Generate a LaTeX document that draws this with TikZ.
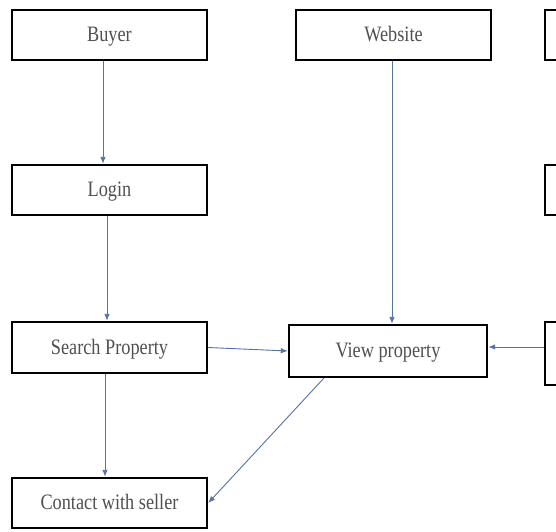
\documentclass[tikz,border=0pt]{standalone}
\usepackage{fontspec}
\usepackage{graphicx}
\setmainfont{Liberation Serif}
\usetikzlibrary{arrows.meta}
\definecolor{linkblue}{RGB}{84,116,164}
\definecolor{txtgray}{RGB}{80,80,80}
\newcommand{\lbltext}[1]{\scalebox{0.83}[1]{#1}}
\tikzset{
  boxnode/.style={draw=black, line width=2.4pt, minimum width=195pt, minimum height=50pt,
    inner sep=0pt, text height=17pt, text depth=4pt,
    font=\fontsize{22}{26}\selectfont, text=txtgray},
  arr/.style={draw=linkblue, line width=0.9pt, -{Latex[length=7pt,width=5.5pt]}}
}
\begin{document}
\begin{tikzpicture}[x=1pt,y=1pt]
\useasboundingbox (0,0) rectangle (556,-531);
\clip (0,0) rectangle (556,-531);
\fill[white] (0,0) rectangle (556,-531);
\node[boxnode] (buyer) at (109.5,-35) {\lbltext{Buyer}};
\node[boxnode] (website) at (393.5,-35) {\lbltext{Website}};
\node[boxnode] (r1) at (642.5,-35) {};
\node[boxnode] (login) at (109.5,-190) {\lbltext{Login}};
\node[boxnode] (r2) at (642.5,-190) {};
\node[boxnode, minimum height=51pt] (search) at (109.5,-347.5) {\lbltext{Search Property}};
\node[boxnode, minimum width=198pt, minimum height=52pt] (view) at (388,-351) {\lbltext{View property}};
\node[boxnode, minimum height=63pt] (r3) at (642.5,-353.5) {};
\node[boxnode] (contact) at (109.5,-503) {\lbltext{Contact with seller}};

\draw[arr] ([xshift=-6.5pt]buyer.south) -- ([xshift=-6.5pt]login.north);
\draw[arr] ([xshift=-2.5pt]login.south) -- ([xshift=-2.5pt]search.north);
\draw[arr] ([xshift=-4.5pt]search.south) -- ([xshift=-4.5pt]contact.north);
\draw[arr] ([xshift=-1.5pt]website.south) -- ([xshift=-1.5pt]website.south |- view.north);
\draw[arr] (search.east) -- (view.west);
\draw[arr] ([yshift=6.5pt]r3.west) -- ([yshift=6.5pt]r3.west -| view.east);
\draw[arr] ([xshift=36pt]view.south west) -- (contact.east);
\end{tikzpicture}
\end{document}
